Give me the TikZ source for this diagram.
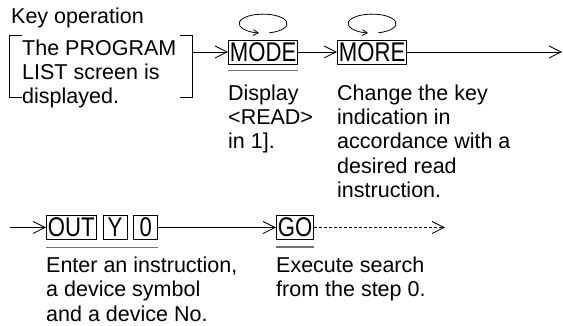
\documentclass[tikz,border=0pt]{standalone}
\usepackage{fontspec}
\setmainfont{Liberation Sans}
\newfontfamily\keyfont[FakeStretch=0.82]{Liberation Sans}
\usetikzlibrary{arrows.meta, positioning}

\begin{document}
\begin{tikzpicture}[x=1pt, y=1pt,
  keybox/.style={draw, line width=0.8pt, font={\keyfont\fontsize{27pt}{27pt}\selectfont}, inner xsep=1.5pt, inner ysep=0pt,
    minimum height=24pt, minimum width=24pt, text height=19pt, text depth=0pt},
  note/.style={font={\fontsize{21.5pt}{24.3pt}\selectfont}, align=left, inner sep=0pt, anchor=north west},
  flow/.style={-{Straight Barb[length=12pt, width=12pt]}, line width=0.8pt},
  uline/.style={black!55, line width=1.3pt},
  repeatarc/.style={-{Straight Barb[length=5pt, width=6pt]}, line width=0.8pt}]
  \useasboundingbox (0,0) rectangle (563,326);
  \node[note, anchor=base west] (title) at (11,302) {Key operation};
  \node[minimum width=182pt, minimum height=61pt, inner sep=0pt] (screen) at (101,259.5) {};
  \node[note] (screentext) at (22,286.7) {The PROGRAM\\LIST screen is\\displayed.};
  \draw[line width=0.8pt] ([xshift=12pt]screen.north west) -| (screen.south west) -- ++(12pt,0);
  \draw[line width=0.8pt] ([xshift=-12pt]screen.north east) -| (screen.south east) -- ++(-12pt,0);

  \node[keybox, anchor=west] (mode) at (228,274) {MODE};
  \node[keybox, anchor=west] (more) at (337,274) {MORE};
  \coordinate (rowend) at (562,274);
  \draw[flow] (screen.east |- mode.west) -- (mode.west);
  \draw[flow] (mode) -- (more);
  \draw[flow] (more) -- (rowend);
  \draw[uline] ([yshift=-6pt]mode.south west) -- ([yshift=-6pt]mode.south east);
  \foreach \k in {mode, more}
    \draw[repeatarc] ([shift={(6.2pt,6.8pt)}]\k.north) arc[start angle=-75, end angle=260, x radius=24pt, y radius=9.5pt];
  \node[note] (display) at ([yshift=-20pt]mode.south west) {Display\\<READ>\\in 1].};
  \node[note] (change) at ([yshift=-20pt]more.south west) {Change the key\\indication in\\accordance with a\\desired read\\instruction.};

  \coordinate (rowstart) at (10,98.5);
  \node[keybox, anchor=west] (out) at (46,98.5) {OUT};
  \node[keybox, right=6pt of out] (devy) {Y};
  \node[keybox, right=6pt of devy] (devno) {0};
  \node[keybox, anchor=west] (go) at (276,98.5) {GO};
  \coordinate (goend) at (445,98.5);
  \draw[flow] (rowstart) -- (out);
  \draw[flow] (devno) -- (go);
  \draw[flow, dash pattern=on 3pt off 2pt] (go) -- (goend);
  \draw[uline] ([yshift=-7.5pt]out.south west) -- ([yshift=-7.5pt]devno.south east);
  \draw[uline] ([yshift=-7pt]go.south west) -- ([yshift=-7pt]go.south east);
  \node[note] (enter) at ([yshift=-17pt]out.south west) {Enter an instruction,\\a device symbol\\and a device No.};
  \node[note] (execute) at ([yshift=-17pt]go.south west) {Execute search\\from the step 0.};
\end{tikzpicture}
\end{document}
